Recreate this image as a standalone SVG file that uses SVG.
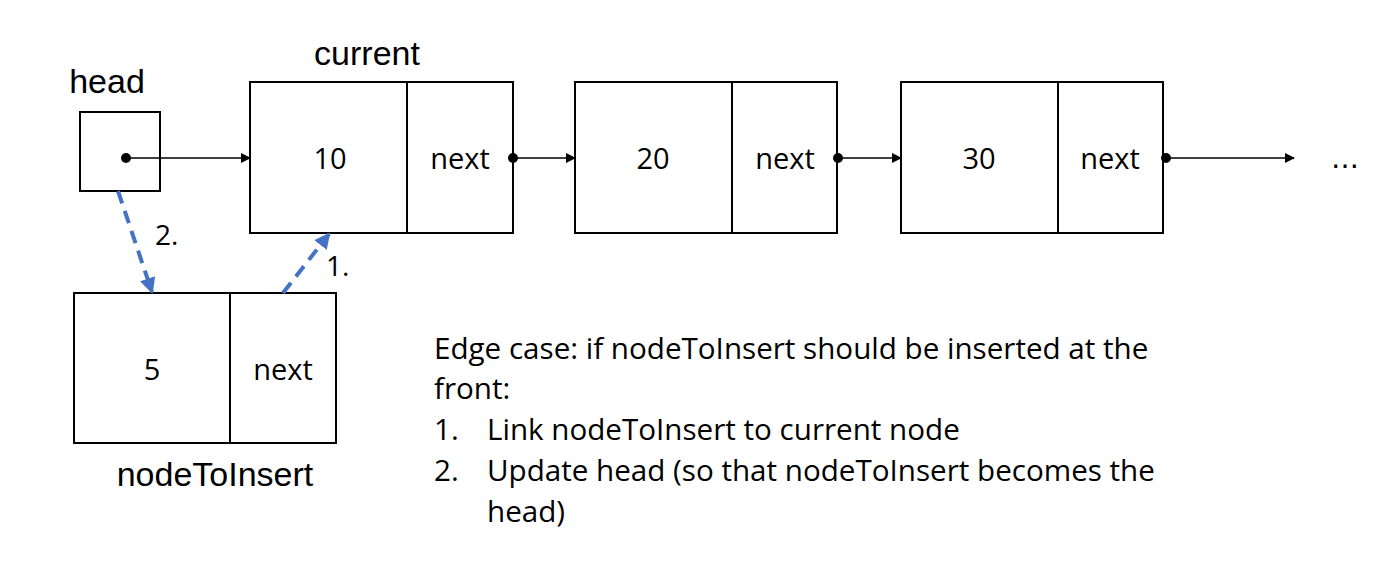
<svg xmlns="http://www.w3.org/2000/svg" width="1399" height="579" viewBox="0 0 1399 579">
<style>
.box{fill:#fff;stroke:#000;stroke-width:2}
.div{stroke:#000;stroke-width:2}
.lbl{font-family:"Liberation Sans",Arial,sans-serif;font-size:34px;fill:#000;text-anchor:middle}
.val{font-family:"Open Sans","DejaVu Sans",sans-serif;font-size:29px;fill:#000;text-anchor:middle}
.body{font-family:"Open Sans","Liberation Sans",sans-serif;font-size:29.6px;fill:#000}
.num{font-family:"Open Sans","Liberation Sans",sans-serif;font-size:28px;fill:#000}
.link{stroke:#000;stroke-width:1.5;fill:none}
.dash{stroke:#4472C4;stroke-width:4;stroke-dasharray:13 8;fill:none}
</style>
<defs>
<marker id="ah" markerWidth="10" markerHeight="10" refX="9" refY="5" orient="auto" markerUnits="userSpaceOnUse">
<path d="M0,0 L10,5 L0,10 Z" fill="#000"/>
</marker>
<marker id="ahb" markerWidth="16" markerHeight="16" refX="14" refY="8" orient="auto" markerUnits="userSpaceOnUse">
<path d="M0,0 L16,8 L0,16 Z" fill="#4472C4"/>
</marker>
</defs>
<rect width="1399" height="579" fill="#fff"/>

<g id="head">
<text class="lbl" x="107" y="93">head</text>
<rect class="box" x="80" y="112" width="80" height="79"/>
</g>

<g id="node10">
<text class="lbl" x="367" y="65">current</text>
<rect class="box" x="250" y="82" width="263" height="151"/>
<line class="div" x1="407" y1="82" x2="407" y2="233"/>
<text class="val" x="330" y="169">10</text>
<text class="val" x="460" y="169">next</text>
</g>

<g id="node20">
<rect class="box" x="575" y="82" width="262" height="151"/>
<line class="div" x1="732" y1="82" x2="732" y2="233"/>
<text class="val" x="653" y="169">20</text>
<text class="val" x="785" y="169">next</text>
</g>

<g id="node30">
<rect class="box" x="901" y="82" width="262" height="151"/>
<line class="div" x1="1058" y1="82" x2="1058" y2="233"/>
<text class="val" x="979" y="169">30</text>
<text class="val" x="1110" y="169">next</text>
</g>

<g id="ellipsis">
<text x="1345" y="168" style="font-family:'DejaVu Sans',sans-serif;font-size:28px;text-anchor:middle;fill:#000">…</text>
</g>

<g id="nodeToInsert">
<rect class="box" x="74" y="293" width="262" height="150"/>
<line class="div" x1="230" y1="293" x2="230" y2="443"/>
<text class="val" x="152" y="380">5</text>
<text class="val" x="283" y="380">next</text>
<text class="lbl" x="215" y="486">nodeToInsert</text>
</g>

<g id="connectors">
<circle cx="126" cy="158" r="5" fill="#000"/>
<line class="link" x1="126" y1="158" x2="250" y2="158" marker-end="url(#ah)"/>
<circle cx="513" cy="158" r="5" fill="#000"/>
<line class="link" x1="513" y1="158" x2="575" y2="158" marker-end="url(#ah)"/>
<circle cx="838" cy="158" r="5" fill="#000"/>
<line class="link" x1="838" y1="158" x2="901" y2="158" marker-end="url(#ah)"/>
<circle cx="1166" cy="158" r="5" fill="#000"/>
<line class="link" x1="1166" y1="158" x2="1294" y2="158" marker-end="url(#ah)"/>
<line class="dash" x1="118" y1="191" x2="152" y2="292" marker-end="url(#ahb)"/>
<line class="dash" x1="283" y1="293" x2="329" y2="234" marker-end="url(#ahb)"/>
<text class="num" x="155" y="245">2.</text>
<text class="num" x="326" y="276">1.</text>
</g>

<g id="note">
<text class="body" x="434" y="359">Edge case: if nodeToInsert should be inserted at the</text>
<text class="body" x="434" y="399">front:</text>
<text class="body" x="434" y="440">1.</text>
<text class="body" x="487" y="440">Link nodeToInsert to current node</text>
<text class="body" x="434" y="481">2.</text>
<text class="body" x="487" y="481">Update head (so that nodeToInsert becomes the</text>
<text class="body" x="487" y="522">head)</text>
</g>
</svg>
